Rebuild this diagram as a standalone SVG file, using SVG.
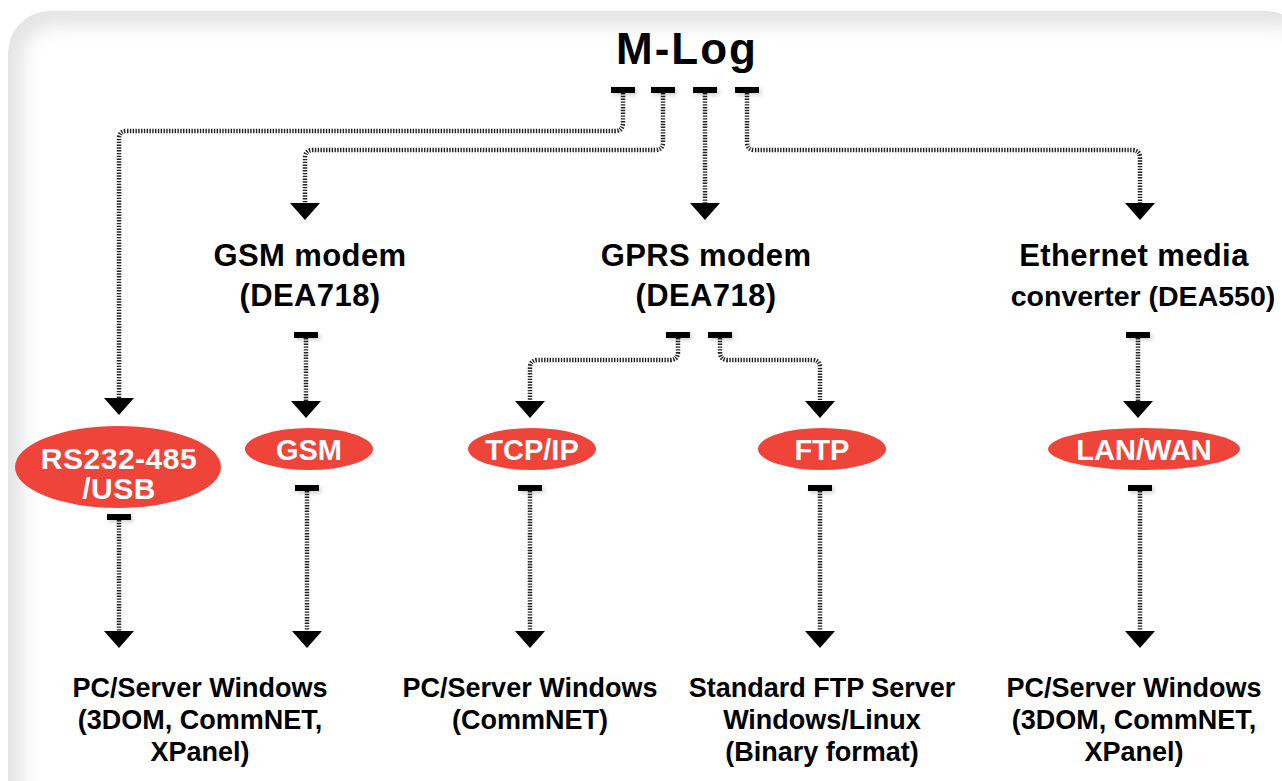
<svg xmlns="http://www.w3.org/2000/svg" width="1282" height="781" viewBox="0 0 1282 781">
<style>
.t{font-family:"Liberation Sans",Arial,sans-serif;font-weight:bold;fill:#000;text-anchor:middle}
.title{font-size:44px;letter-spacing:2px}
.h{font-size:31px;letter-spacing:0.4px}
.h2{font-size:28.5px}
.b{font-size:27px}
.e{font-size:29px;fill:#fff}
.e2{font-size:30px;fill:#fff;letter-spacing:0.5px}
.c{fill:none;stroke:#222;stroke-width:4.5;stroke-dasharray:1.4 1.4}
.cap{fill:#000}
.ar{fill:#000}
.ell{fill:#ef443a}
</style>
<defs>
<filter id="blur" x="-5%" y="-5%" width="110%" height="110%"><feGaussianBlur stdDeviation="9"/></filter>
<filter id="sh" x="-50%" y="-100%" width="200%" height="400%"><feDropShadow dx="2" dy="2" stdDeviation="2" flood-color="#000" flood-opacity="0.2"/></filter>
</defs>
<rect width="1282" height="781" fill="#fff"/>
<g id="frame">
<rect x="8" y="11" width="1300" height="820" rx="42" fill="#e4e4e4"/>
<rect x="22" y="26" width="1290" height="820" rx="34" fill="#fff" filter="url(#blur)"/>
</g>
<g id="connectors">
<path class="c" d="M623,93 V123 Q623,131 615,131 H127 Q119,131 119,139 V399"/>
<path class="c" d="M663,93 V142 Q663,150 655,150 H313 Q305,150 305,158 V204"/>
<path class="c" d="M705,93 V204"/>
<path class="c" d="M747,93 V142 Q747,150 755,150 H1132 Q1140,150 1140,158 V204"/>
<path class="c" d="M306,338 V402"/>
<path class="c" d="M678,338 V352 Q678,360 670,360 H538 Q530,360 530,368 V402"/>
<path class="c" d="M720,338 V352 Q720,360 728,360 H812 Q820,360 820,368 V402"/>
<path class="c" d="M1138,338 V402"/>
<path class="c" d="M119,520 V632"/>
<path class="c" d="M307,491 V632"/>
<path class="c" d="M530,491 V632"/>
<path class="c" d="M820,491 V632"/>
<path class="c" d="M1140,491 V632"/>
<g filter="url(#sh)">
<rect class="cap" x="611" y="87" width="24" height="6"/>
<rect class="cap" x="651" y="87" width="24" height="6"/>
<rect class="cap" x="693" y="87" width="24" height="6"/>
<rect class="cap" x="735" y="87" width="24" height="6"/>
<rect class="cap" x="294" y="332" width="24" height="6"/>
<rect class="cap" x="666" y="332" width="24" height="6"/>
<rect class="cap" x="708" y="332" width="24" height="6"/>
<rect class="cap" x="1126" y="332" width="24" height="6"/>
<rect class="cap" x="107" y="514" width="24" height="6"/>
<rect class="cap" x="295" y="485" width="24" height="6"/>
<rect class="cap" x="518" y="485" width="24" height="6"/>
<rect class="cap" x="808" y="485" width="24" height="6"/>
<rect class="cap" x="1128" y="485" width="24" height="6"/>
</g>
<polygon class="ar" points="104,398 134,398 119,415"/>
<polygon class="ar" points="290,203 320,203 305,220"/>
<polygon class="ar" points="690,203 720,203 705,220"/>
<polygon class="ar" points="1125,203 1155,203 1140,220"/>
<polygon class="ar" points="291,401 321,401 306,418"/>
<polygon class="ar" points="515,401 545,401 530,418"/>
<polygon class="ar" points="805,401 835,401 820,418"/>
<polygon class="ar" points="1123,401 1153,401 1138,418"/>
<polygon class="ar" points="104,631 134,631 119,648"/>
<polygon class="ar" points="292,631 322,631 307,648"/>
<polygon class="ar" points="515,631 545,631 530,648"/>
<polygon class="ar" points="805,631 835,631 820,648"/>
<polygon class="ar" points="1125,631 1155,631 1140,648"/>
</g>
<g id="mlog"><text class="t title" x="687" y="64">M-Log</text></g>
<g id="gsm-modem"><text class="t h" x="310" y="266">GSM modem</text><text class="t h" x="310" y="306">(DEA718)</text></g>
<g id="gprs-modem"><text class="t h" x="706" y="266">GPRS modem</text><text class="t h" x="706" y="306">(DEA718)</text></g>
<g id="ethernet"><text class="t h" x="1134" y="266">Ethernet media</text><text class="t h2" x="1143" y="306">converter (DEA550)</text></g>
<g id="rs232"><ellipse class="ell" cx="118" cy="467" rx="103" ry="41"/><text class="t e2" x="119" y="469">RS232-485</text><text class="t e2" x="119" y="499">/USB</text></g>
<g id="gsm"><ellipse class="ell" cx="309" cy="449" rx="64" ry="21"/><text class="t e" x="309" y="460">GSM</text></g>
<g id="tcpip"><ellipse class="ell" cx="532" cy="449" rx="64" ry="21"/><text class="t e" x="532" y="460">TCP/IP</text></g>
<g id="ftp"><ellipse class="ell" cx="822" cy="449" rx="64" ry="21"/><text class="t e" x="822" y="460">FTP</text></g>
<g id="lanwan"><ellipse class="ell" cx="1144" cy="449" rx="96" ry="21"/><text class="t e" x="1144" y="460">LAN/WAN</text></g>
<g id="pc1"><text class="t b" x="200" y="697">PC/Server Windows</text><text class="t b" x="200" y="729">(3DOM, CommNET,</text><text class="t b" x="200" y="761">XPanel)</text></g>
<g id="pc2"><text class="t b" x="530" y="697">PC/Server Windows</text><text class="t b" x="530" y="729">(CommNET)</text></g>
<g id="ftpserver"><text class="t b" x="822" y="697">Standard FTP Server</text><text class="t b" x="822" y="729">Windows/Linux</text><text class="t b" x="822" y="761">(Binary format)</text></g>
<g id="pc3"><text class="t b" x="1134" y="697">PC/Server Windows</text><text class="t b" x="1134" y="729">(3DOM, CommNET,</text><text class="t b" x="1134" y="761">XPanel)</text></g>
</svg>
